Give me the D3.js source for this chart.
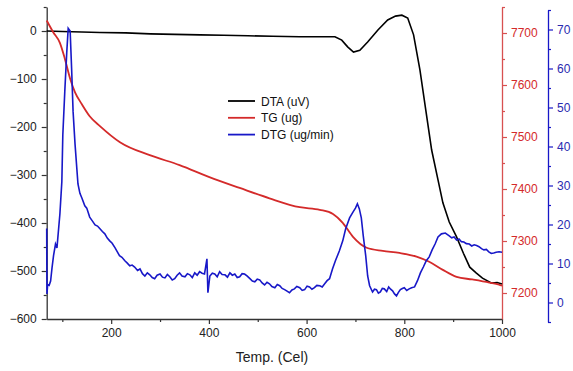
<!DOCTYPE html>
<html>
<head>
<meta charset="utf-8">
<script src="https://cdn.jsdelivr.net/npm/d3@7"></script>
<style>
body { margin: 0; background: #fff; }
svg text { font-family: "Liberation Sans", Arial, sans-serif; }
</style>
</head>
<body>
<div class="container"></div>
<script>
// DTA (uV), left axis
const dtaTemp = [68, 100, 140, 177, 230, 280, 330, 382, 430, 480, 530, 586, 630, 658, 672, 684, 696, 709, 725, 746, 766, 782, 795, 807, 819, 832, 844, 856, 869, 879, 892, 907, 921, 934, 947, 960, 978, 990, 1000]
const dtaVal = [0, -1, -2, -3, -4, -6, -7, -8, -9, -10, -11, -12, -12, -12, -19, -33, -44, -40, -23, 2, 23, 31, 33, 27, -8, -81, -165, -248, -310, -358, -398, -429, -463, -492, -504, -515, -525, -524, -527]

// TG (ug), red right axis
const tgTemp = [68, 81, 95, 105, 116, 126, 140, 156, 177, 218, 279, 340, 401, 463, 524, 586, 627, 654, 674, 695, 723, 756, 790, 825, 851, 878, 907, 939, 974, 994, 1000]
const tgVal = [7724, 7702, 7681, 7651, 7612, 7586, 7563, 7540, 7521, 7490, 7465, 7446, 7423, 7402, 7382, 7365, 7360, 7352, 7335, 7308, 7287, 7281, 7277, 7270, 7260, 7245, 7231, 7226, 7220, 7216, 7214]

// DTG (ug/min), blue right axis
const dtgTemp = [68, 68.5, 70, 73, 76, 79, 82, 86, 89, 95, 99, 101, 105, 109, 112, 116, 119, 122, 126, 132, 136, 140, 146, 150, 156, 161, 167, 172, 177, 182, 187, 192, 197, 202, 208, 212, 217, 222, 228, 233, 238, 243, 248, 254, 259, 264, 269, 274, 279, 284, 289, 294, 300, 305, 310, 315, 320, 325, 330, 335, 340, 345, 351, 356, 361, 366, 371, 376, 381, 386, 391, 396, 398, 402, 407, 412, 417, 422, 427, 433, 438, 443, 448, 453, 458, 463, 468, 473, 478, 484, 489, 494, 499, 504, 509, 514, 519, 524, 529, 535, 540, 545, 550, 555, 560, 565, 570, 575, 580, 586, 591, 596, 601, 606, 611, 616, 621, 627, 632, 637, 642, 647, 653, 659, 667, 674, 680, 688, 694, 700, 704, 708, 712, 716, 721, 725, 729, 735, 739, 743, 747, 751, 755, 759, 764, 768, 772, 776, 780, 784, 788, 792, 796, 800, 805, 810, 815, 821, 827, 833, 839, 845, 851, 857, 863, 869, 876, 884, 892, 897, 902, 907, 912, 917, 922, 927, 933, 938, 943, 948, 953, 958, 963, 968, 973, 978, 983, 988, 994, 1000]
const dtgVal = [19, 2.2, 4.6, 4.4, 5.5, 9, 12, 15, 14, 22.7, 31, 43, 54, 64, 70.3, 69.6, 60, 49, 40.6, 30.4, 28, 26.8, 24.8, 24.2, 21.9, 21, 19.9, 19.6, 18.9, 18.2, 17.6, 16.5, 15.8, 15.2, 14, 13.1, 12, 11.6, 10.7, 10.1, 9.4, 9.6, 9.1, 8.2, 8.6, 7.4, 6.8, 7.6, 7.1, 6.4, 6.1, 7.0, 7.3, 6.5, 6.3, 7.2, 6.6, 5.8, 6.1, 7.0, 7.6, 6.8, 6.6, 7.4, 7.1, 6.4, 7.6, 7.0, 7.9, 7.5, 7.3, 11.2, 2.5, 6.8, 7.5, 7.3, 6.6, 7.9, 7.2, 7.1, 6.5, 7.6, 7.0, 7.3, 6.4, 6.6, 7.4, 7.3, 6.8, 6.1, 5.5, 5.3, 6.0, 5.8, 5.0, 4.5, 5.2, 4.8, 4.1, 3.8, 4.6, 4.3, 3.6, 3.3, 2.9, 2.5, 3.2, 3.5, 4.1, 3.8, 3.1, 3.3, 4.2, 4.0, 3.4, 3.8, 4.4, 4.3, 4.0, 4.8, 5.6, 6.1, 8.6, 10.7, 13.2, 15.8, 18.9, 21.7, 23, 24.2, 25.3, 24, 21.7, 17.1, 12, 6.8, 4.3, 2.7, 3.4, 3.3, 2.4, 2.7, 3.6, 3.5, 2.8, 4.0, 3.4, 3.0, 2.2, 1.7, 2.6, 3.3, 3.6, 3.8, 3.1, 3.5, 3.8, 4.0, 5.6, 7.6, 9.1, 10.7, 11.7, 13.5, 15, 16.8, 17.6, 17.8, 17.1, 16.6, 16.8, 16.0, 16.3, 15.6, 15.5, 15.1, 15.0, 14.5, 14.8, 14.6, 14.3, 13.8, 13.5, 13.6, 13.0, 12.6, 12.7, 12.9, 13.0, 12.9]

const tempTicks = [200, 400, 600, 800, 1000]
const dtaTicks = [0, -100, -200, -300, -400, -500, -600]
const tgTicks = [7200, 7300, 7400, 7500, 7600, 7700]
const dtgTicks = [0, 10, 20, 30, 40, 50, 60, 70]

const w = 573
const h = 371
const pLeft = 46.7
const pRight = 502
const pTop = 7
const pBottom = 319

const svg = d3.select(".container")
  .append("svg")
  .attr("width", w)
  .attr("height", h)

const x = d3.scaleLinear().domain([68, 1000]).range([pLeft, pRight])
const yDta = d3.scaleLinear().domain([-600, 50]).range([pBottom, pTop])
const yTg = d3.scaleLinear().domain([7150, 7750]).range([pBottom, pTop])
const yDtg = d3.scaleLinear().domain([-5, 75]).range([322, 10])

const red = "#d42a2a"
const blue = "#1818c8"
const fmt = d3.format("d")

const styleAxis = (g, color, textColor) => {
  g.selectAll("path").attr("stroke", color).attr("stroke-width", 1.3)
  g.selectAll("line").attr("stroke", color).attr("stroke-width", 1.2)
  g.selectAll("text").attr("fill", textColor).attr("font-size", 12)
}

// bottom axis
const xg = svg.append("g").attr("transform", `translate(0,${pBottom})`)
  .call(d3.axisBottom(x).tickValues(tempTicks).tickFormat(fmt).tickSize(5).tickPadding(4).tickSizeOuter(0))
styleAxis(xg, "#333", "#222")
const xm = svg.append("g").attr("transform", `translate(0,${pBottom})`)
  .call(d3.axisBottom(x).tickValues([100, 300, 500, 700, 900]).tickSize(3).tickFormat("").tickSizeOuter(0))
styleAxis(xm, "#333", "#222")
xm.select("path").remove()

// left axis
const lg = svg.append("g").attr("transform", `translate(${pLeft},0)`)
  .call(d3.axisLeft(yDta).tickValues(dtaTicks).tickFormat(fmt).tickSize(5).tickPadding(5).tickSizeOuter(0))
styleAxis(lg, "#333", "#222")
const lm = svg.append("g").attr("transform", `translate(${pLeft},0)`)
  .call(d3.axisLeft(yDta).tickValues([50, -50, -150, -250, -350, -450, -550]).tickSize(3).tickFormat(""))
styleAxis(lm, "#333", "#222")
lm.select("path").remove()

// red axis
const rg = svg.append("g").attr("transform", `translate(${pRight},0)`)
  .call(d3.axisRight(yTg).tickValues(tgTicks).tickFormat(fmt).tickSize(5).tickPadding(4).tickSizeOuter(0))
styleAxis(rg, "#d85050", red)
const rm = svg.append("g").attr("transform", `translate(${pRight},0)`)
  .call(d3.axisRight(yTg).tickValues([7750, 7650, 7550, 7450, 7350, 7250]).tickSize(3).tickFormat(""))
styleAxis(rm, "#d85050", red)
rm.select("path").remove()

// blue axis
const bg = svg.append("g").attr("transform", "translate(548,0)")
  .call(d3.axisRight(yDtg).tickValues(dtgTicks).tickFormat(fmt).tickSize(5).tickPadding(4).tickSizeOuter(0))
styleAxis(bg, blue, "#2a2ab0")
const bm = svg.append("g").attr("transform", "translate(548,0)")
  .call(d3.axisRight(yDtg).tickValues([75, 65, 55, 45, 35, 25, 15, 5, -5]).tickSize(3).tickFormat(""))
styleAxis(bm, blue, blue)
bm.select("path").remove()

svg.append("text")
  .attr("x", 272)
  .attr("y", 362)
  .attr("text-anchor", "middle")
  .attr("font-size", 14)
  .attr("fill", "#222")
  .text("Temp. (Cel)")

// curves
const dtaLine = d3.line().x(d => x(d[0])).y(d => yDta(d[1]))
const tgLine = d3.line().curve(d3.curveMonotoneX).x(d => x(d[0])).y(d => yTg(d[1]))
const dtgLine = d3.line().x(d => x(d[0])).y(d => yDtg(d[1]))

svg.append("path").datum(d3.zip(dtaTemp, dtaVal)).attr("d", dtaLine)
  .attr("fill", "none").attr("stroke", "#000").attr("stroke-width", 1.6)
svg.append("path").datum(d3.zip(tgTemp, tgVal)).attr("d", tgLine)
  .attr("fill", "none").attr("stroke", red).attr("stroke-width", 1.8)
svg.append("path").datum(d3.zip(dtgTemp, dtgVal)).attr("d", dtgLine)
  .attr("fill", "none").attr("stroke", blue).attr("stroke-width", 1.6)

// legend
const legendItems = [
  { name: "DTA (uV)", color: "#000" },
  { name: "TG (ug)", color: red },
  { name: "DTG (ug/min)", color: blue }
]
const legend = svg.append("g").attr("transform", "translate(228,101)")
const item = legend.selectAll("g").data(legendItems).enter().append("g")
  .attr("transform", (d, i) => `translate(0,${i * 16.8})`)
item.append("line").attr("x1", 0).attr("x2", 27).attr("y1", 0).attr("y2", 0)
  .attr("stroke", d => d.color).attr("stroke-width", 1.8)
item.append("text").attr("x", 33).attr("y", 4.5).attr("font-size", 12).attr("fill", "#111")
  .text(d => d.name)
</script>
</body>
</html>
